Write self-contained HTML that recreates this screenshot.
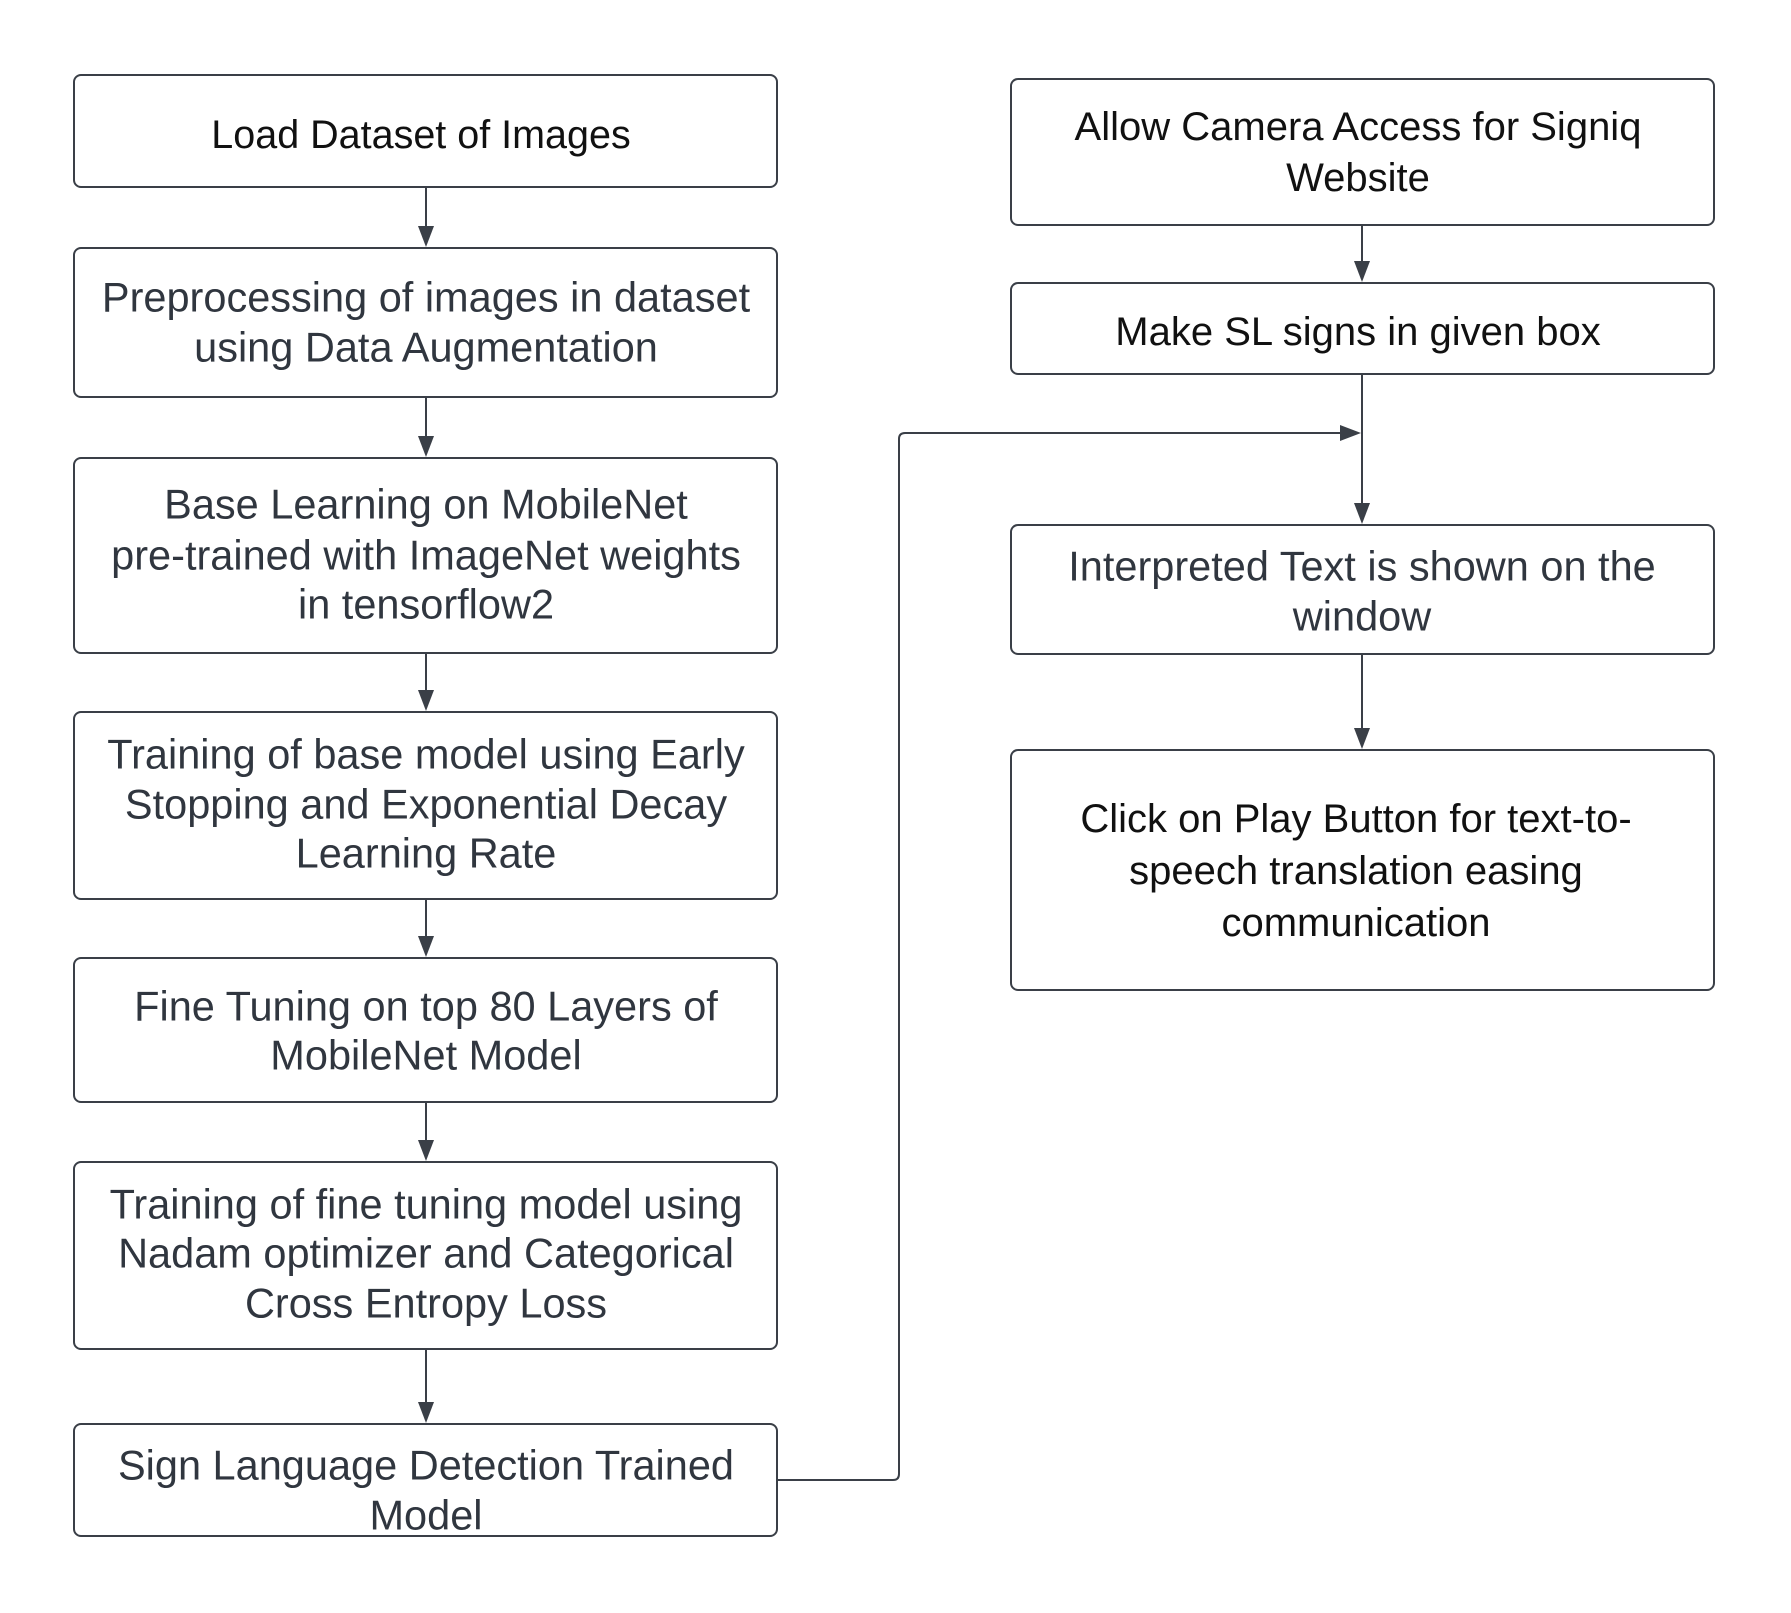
<!DOCTYPE html>
<html><head><meta charset="utf-8"><style>
html,body{margin:0;padding:0;background:#fff;}
svg{display:block;}
</style></head><body>
<svg width="1791" height="1613" viewBox="0 0 1791 1613" xmlns="http://www.w3.org/2000/svg">
<g fill="#fff" stroke="#3a3f47" stroke-width="2">
<rect x="74" y="75" width="703" height="112" rx="7"/>
<rect x="74" y="248" width="703" height="149" rx="7"/>
<rect x="74" y="458" width="703" height="195" rx="7"/>
<rect x="74" y="712" width="703" height="187" rx="7"/>
<rect x="74" y="958" width="703" height="144" rx="7"/>
<rect x="74" y="1162" width="703" height="187" rx="7"/>
<rect x="74" y="1424" width="703" height="112" rx="7"/>
<rect x="1011" y="79" width="703" height="146" rx="7"/>
<rect x="1011" y="283" width="703" height="91" rx="7"/>
<rect x="1011" y="525" width="703" height="129" rx="7"/>
<rect x="1011" y="750" width="703" height="240" rx="7"/>
</g>
<g stroke="#3a3f47" stroke-width="2" fill="none">
<line x1="426" y1="187" x2="426" y2="228"/>
<line x1="426" y1="397" x2="426" y2="438"/>
<line x1="426" y1="653" x2="426" y2="692"/>
<line x1="426" y1="899" x2="426" y2="938"/>
<line x1="426" y1="1102" x2="426" y2="1142"/>
<line x1="426" y1="1349" x2="426" y2="1404"/>
<line x1="1362" y1="225" x2="1362" y2="263"/>
<line x1="1362" y1="374" x2="1362" y2="505"/>
<line x1="1362" y1="654" x2="1362" y2="730"/>
<path d="M777 1480 H893 Q899 1480 899 1474 V439 Q899 433 905 433 H1342"/>
</g>
<g fill="#3a3f47">
<polygon points="418,226 434,226 426,247"/>
<polygon points="418,436 434,436 426,457"/>
<polygon points="418,690 434,690 426,711"/>
<polygon points="418,936 434,936 426,957"/>
<polygon points="418,1140 434,1140 426,1161"/>
<polygon points="418,1402 434,1402 426,1423"/>
<polygon points="1354,261 1370,261 1362,282"/>
<polygon points="1354,503 1370,503 1362,524"/>
<polygon points="1354,728 1370,728 1362,749"/>
<polygon points="1340,425 1340,441 1361,433"/>
</g>
<g font-family="Liberation Sans, sans-serif" font-size="41.5" fill="#30363f" text-anchor="middle" dominant-baseline="central">
<text x="421" y="135" font-size="39.5" fill="#111">Load Dataset of Images</text>
<text x="426" y="297">Preprocessing of images in dataset</text>
<text x="426" y="347">using Data Augmentation</text>
<text x="426" y="504">Base Learning on MobileNet</text>
<text x="426" y="555">pre-trained with ImageNet weights</text>
<text x="426" y="604">in tensorflow2</text>
<text x="426" y="754">Training of base model using Early</text>
<text x="426" y="804">Stopping and Exponential Decay</text>
<text x="426" y="853">Learning Rate</text>
<text x="426" y="1006">Fine Tuning on top 80 Layers of</text>
<text x="426" y="1055">MobileNet Model</text>
<text x="426" y="1204">Training of fine tuning model using</text>
<text x="426" y="1253">Nadam optimizer and Categorical</text>
<text x="426" y="1303">Cross Entropy Loss</text>
<text x="426" y="1465">Sign Language Detection Trained</text>
<text x="426" y="1515">Model</text>
<text x="1362" y="566">Interpreted Text is shown on the</text>
<text x="1362" y="616">window</text>
</g>
<g font-family="Liberation Sans, sans-serif" font-size="40" fill="#111" text-anchor="middle" dominant-baseline="central">
<text x="1358" y="127">Allow Camera Access for Signiq</text>
<text x="1358" y="178">Website</text>
<text x="1358" y="332">Make SL signs in given box</text>
<text x="1356" y="819">Click on Play Button for text-to-</text>
<text x="1356" y="871">speech translation easing</text>
<text x="1356" y="923">communication</text>
</g>
</svg>
</body></html>
